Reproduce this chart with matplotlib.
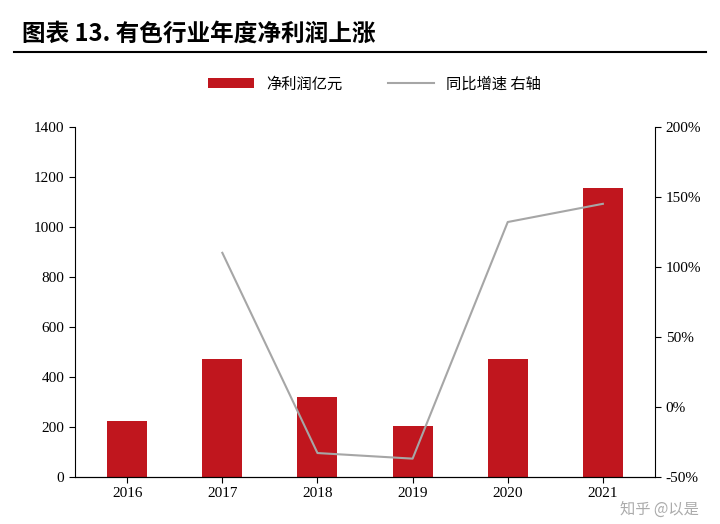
import matplotlib
matplotlib.use("Agg")
import matplotlib.pyplot as plt
from matplotlib.ticker import FuncFormatter

plt.rcParams["font.family"] = ["Noto Sans CJK SC"]

years = ["2016", "2017", "2018", "2019", "2020", "2021"]
profit = [225, 470, 320, 205, 470, 1155]
growth_years = ["2017", "2018", "2019", "2020", "2021"]
growth = [110, -33, -37, 132, 145]

fig = plt.figure(figsize=(7.2, 5.24), dpi=100)
ax = fig.add_axes([0.104, 0.09, 0.806, 0.668])
x = list(range(len(years)))
ax.bar(x, profit, width=0.42, color="#C0161E", label="净利润亿元")
ax.set_ylim(0, 1400)
ax.set_yticks(range(0, 1401, 200))
ax.set_xlim(-0.55, 5.55)
ax.set_xticks(x)
ax.set_xticklabels(years, fontfamily="Liberation Serif")
for lbl in ax.get_yticklabels():
    lbl.set_fontfamily("Liberation Serif")
ax.tick_params(labelsize=11, direction="out", length=4)
for s in ["top", "right"]:
    ax.spines[s].set_visible(False)

ax2 = ax.twinx()
gx = [years.index(y) for y in growth_years]
ax2.plot(gx, growth, color="#A6A6A6", lw=1.5, label="同比增速 右轴")
ax2.set_ylim(-50, 200)
ax2.set_yticks(range(-50, 201, 50))
ax2.yaxis.set_major_formatter(FuncFormatter(lambda v, p: f"{int(v)}%"))
for lbl in ax2.get_yticklabels():
    lbl.set_fontfamily("Liberation Serif")
ax2.tick_params(labelsize=11, direction="out", length=4)
for s in ["top", "left"]:
    ax2.spines[s].set_visible(False)

h1, l1 = ax.get_legend_handles_labels()
h2, l2 = ax2.get_legend_handles_labels()
fig.legend(h1 + h2, l1 + l2, loc="center", bbox_to_anchor=(0.52, 0.84), ncol=2,
           frameon=False, fontsize=11, columnspacing=3, handlelength=3)

fig.text(0.03, 0.935, "图表 13. 有色行业年度净利润上涨", fontsize=17, fontweight="bold", va="center")
fig.add_artist(plt.Line2D([0.02, 0.98], [0.9, 0.9], color="black", lw=1.5))
fig.text(0.97, 0.02, "知乎 @以是", fontsize=11, color="#888888", ha="right", alpha=0.7)
fig.savefig("out.png", dpi=100)
